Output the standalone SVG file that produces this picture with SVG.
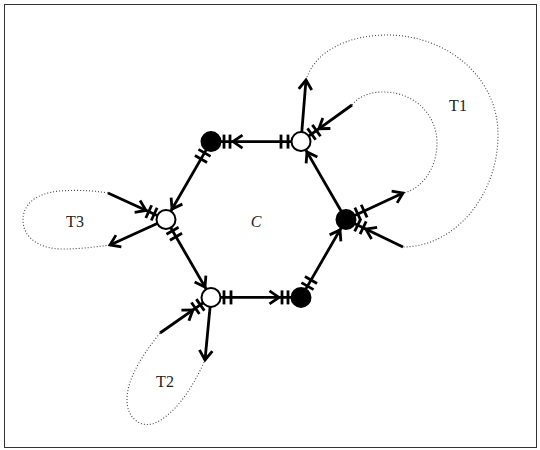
<svg xmlns="http://www.w3.org/2000/svg" xmlns:xlink="http://www.w3.org/1999/xlink" width="540" height="450" viewBox="0 0 540 450">
<style>
.e{stroke:#000;stroke-width:2.8;fill:none}
.t{stroke:#444;stroke-width:1.1;fill:none;stroke-dasharray:1 2}
.w{fill:#fff;stroke:#000;stroke-width:2}
.b{fill:#000;stroke:#000;stroke-width:2}
.lab{font-family:"Liberation Serif","DejaVu Serif",serif;font-size:16px;fill:#222;text-anchor:middle}
</style>
<defs>
<path id="chev" d="M9.5,-6.5 L0,0 L9.5,6.5" fill="none" stroke="#000" stroke-width="2.8"/>
<line id="bar" x1="0" y1="-7" x2="0" y2="7" stroke="#000" stroke-width="2.8"/>
</defs>
<rect x="4.5" y="4.5" width="532" height="443" fill="#fff" stroke="#333" stroke-width="1"/>
<g id="trees">
<path class="t" d="M306,80 C315,50 350,35 387,35 C445,35 498,75 498,135 C498,195 455,247 403,247"/>
<path class="t" d="M352,105 C360,95 372,92 383,92 C415,92 437,115 437,143 C437,170 420,190 403,193"/>
<path class="t" d="M108,193 C90,190 75,190 60,191 C35,193 23,205 23,220 C23,238 40,249 62,249 C80,249 95,247 110,245"/>
<path class="t" d="M160,333 C140,358 127,380 127,400 C127,418 140,427 152,424 C172,418 192,390 205,360"/>
</g>
<g id="connectors">
<line class="e" x1="301" y1="141.6" x2="211" y2="141.6"/>
<line class="e" x1="211" y1="297.4" x2="301" y2="297.4"/>
<line class="e" x1="346" y1="219.5" x2="301" y2="141.6"/>
<line class="e" x1="301" y1="297.4" x2="346" y2="219.5"/>
<line class="e" x1="166" y1="219.5" x2="211" y2="297.4"/>
<line class="e" x1="211" y1="141.6" x2="166" y2="219.5"/>
<line class="e" x1="301" y1="141.6" x2="306" y2="80"/>
<line class="e" x1="352" y1="105" x2="301" y2="141.6"/>
<line class="e" x1="346" y1="219.5" x2="403" y2="193"/>
<line class="e" x1="403" y1="247" x2="346" y2="219.5"/>
<line class="e" x1="108" y1="193" x2="166" y2="219.5"/>
<line class="e" x1="166" y1="219.5" x2="110" y2="245"/>
<line class="e" x1="160" y1="333" x2="211" y2="297.4"/>
<line class="e" x1="211" y1="297.4" x2="205" y2="360"/>
<g transform="translate(301,141.6) rotate(180)"><use xlink:href="#bar" x="13"/><use xlink:href="#bar" x="20"/></g>
<g transform="translate(211,141.6) rotate(0)"><use xlink:href="#bar" x="13"/><use xlink:href="#bar" x="19"/><use xlink:href="#chev" x="22"/></g>
<g transform="translate(211,297.4) rotate(0)"><use xlink:href="#bar" x="13"/><use xlink:href="#bar" x="20"/></g>
<g transform="translate(301,297.4) rotate(180)"><use xlink:href="#bar" x="13"/><use xlink:href="#bar" x="19"/><use xlink:href="#chev" x="22"/></g>
<g transform="translate(301,141.6) rotate(60)"><use xlink:href="#chev" x="12"/></g>
<g transform="translate(301,297.4) rotate(-60)"><use xlink:href="#bar" x="13"/><use xlink:href="#bar" x="20"/></g>
<g transform="translate(346,219.5) rotate(120)"><use xlink:href="#chev" x="12"/></g>
<g transform="translate(166,219.5) rotate(60)"><use xlink:href="#bar" x="13"/><use xlink:href="#bar" x="20"/></g>
<g transform="translate(211,297.4) rotate(-120)"><use xlink:href="#chev" x="12"/></g>
<g transform="translate(211,141.6) rotate(120)"><use xlink:href="#bar" x="13"/><use xlink:href="#bar" x="20"/></g>
<g transform="translate(166,219.5) rotate(-60)"><use xlink:href="#chev" x="12"/></g>
<g transform="translate(306,80) rotate(94.6)"><use xlink:href="#chev"/></g>
<g transform="translate(301,141.6) rotate(-35.7)"><use xlink:href="#bar" x="13"/><use xlink:href="#bar" x="19"/><use xlink:href="#chev" x="22"/></g>
<g transform="translate(346,219.5) rotate(-24.9)"><use xlink:href="#bar" x="13"/><use xlink:href="#bar" x="20"/></g>
<g transform="translate(403,193) rotate(155.1)"><use xlink:href="#chev"/></g>
<g transform="translate(346,219.5) rotate(25.8)"><use xlink:href="#bar" x="13"/><use xlink:href="#bar" x="19"/><use xlink:href="#chev" x="22"/></g>
<g transform="translate(166,219.5) rotate(-155.45)"><use xlink:href="#bar" x="13"/><use xlink:href="#bar" x="19"/><use xlink:href="#chev" x="22"/></g>
<g transform="translate(110,245) rotate(-24.5)"><use xlink:href="#chev"/></g>
<g transform="translate(211,297.4) rotate(145.1)"><use xlink:href="#bar" x="13"/><use xlink:href="#bar" x="19"/><use xlink:href="#chev" x="22"/></g>
<g transform="translate(205,360) rotate(-84.5)"><use xlink:href="#chev"/></g>
</g>
<g id="n-tl"><circle class="b" cx="211" cy="141.6" r="9.5"/></g>
<g id="n-tr"><circle class="w" cx="301" cy="141.6" r="9.5"/></g>
<g id="n-r"><circle class="b" cx="346" cy="219.5" r="9.5"/></g>
<g id="n-br"><circle class="b" cx="301" cy="297.4" r="9.5"/></g>
<g id="n-bl"><circle class="w" cx="211" cy="297.4" r="9.5"/></g>
<g id="n-l"><circle class="w" cx="166" cy="219.5" r="9.5"/></g>
<g id="labels">
<text class="lab" x="458" y="111">T1</text>
<text class="lab" x="165" y="387">T2</text>
<text class="lab" x="75" y="227">T3</text>
<text class="lab" x="256" y="227" font-style="italic">C</text>
</g>
</svg>
